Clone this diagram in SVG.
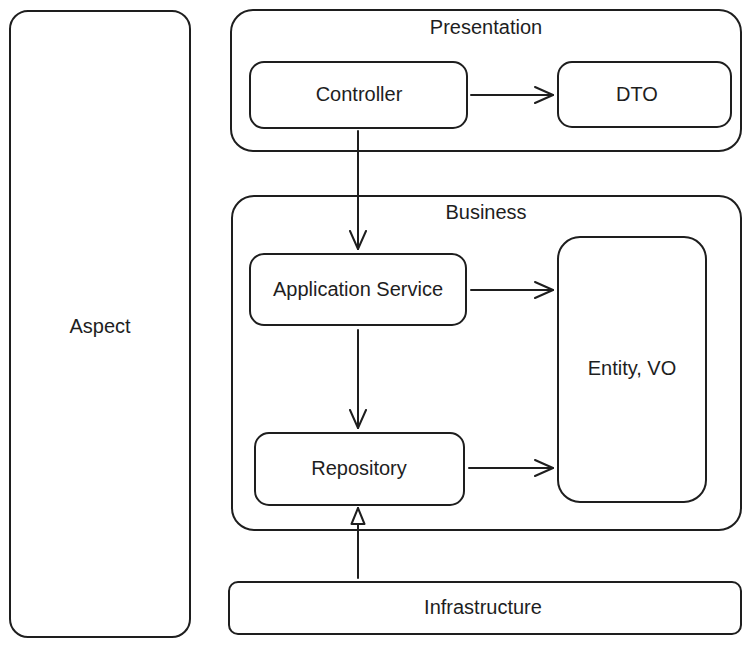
<svg xmlns="http://www.w3.org/2000/svg" width="751" height="649" viewBox="0 0 751 649">
  <style>
    .box { fill: #ffffff; stroke: #1e1e1e; stroke-width: 2; }
    .lbl { font-family: "Liberation Sans", "DejaVu Sans", sans-serif; font-size: 20px; fill: #1e1e1e; text-anchor: middle; dominant-baseline: central; }
    .edge { fill: none; stroke: #1e1e1e; stroke-width: 2; stroke-linecap: round; }
  </style>
  <defs>
    <marker id="open" viewBox="0 0 20 20" refX="19" refY="10" markerWidth="20" markerHeight="20" markerUnits="userSpaceOnUse" orient="auto">
      <path d="M1,2 L19,10 L1,18" fill="none" stroke="#1e1e1e" stroke-width="2" stroke-linecap="round" stroke-linejoin="round"/>
    </marker>
    <marker id="hollow" viewBox="0 0 18 16" refX="17" refY="8" markerWidth="18" markerHeight="16" markerUnits="userSpaceOnUse" orient="auto">
      <path d="M1,1.5 L17,8 L1,14.5 Z" fill="#ffffff" stroke="#1e1e1e" stroke-width="2" stroke-linejoin="round"/>
    </marker>
  </defs>
  <rect width="751" height="649" fill="#ffffff"/>

  <g id="aspect">
    <rect class="box" x="10" y="11" width="180" height="626" rx="18"/>
    <text class="lbl" x="100" y="326">Aspect</text>
  </g>

  <g id="presentation">
    <rect class="box" x="231" y="10" width="510" height="141" rx="22"/>
    <text class="lbl" x="486" y="27">Presentation</text>
  </g>

  <g id="business">
    <rect class="box" x="232" y="196" width="509" height="334" rx="22"/>
    <text class="lbl" x="486" y="212">Business</text>
  </g>

  <g id="controller">
    <rect class="box" x="250" y="62" width="217" height="66" rx="14"/>
    <text class="lbl" x="359" y="94">Controller</text>
  </g>

  <g id="dto">
    <rect class="box" x="558" y="62" width="173" height="65" rx="14"/>
    <text class="lbl" x="637" y="94">DTO</text>
  </g>

  <g id="application-service">
    <rect class="box" x="250" y="254" width="216" height="71" rx="14"/>
    <text class="lbl" x="358" y="289">Application Service</text>
  </g>

  <g id="entity-vo">
    <rect class="box" x="558" y="237" width="148" height="265" rx="22"/>
    <text class="lbl" x="632" y="368">Entity, VO</text>
  </g>

  <g id="repository">
    <rect class="box" x="255" y="433" width="209" height="72" rx="14"/>
    <text class="lbl" x="359" y="468">Repository</text>
  </g>

  <g id="infrastructure">
    <rect class="box" x="229" y="582" width="512" height="52" rx="9"/>
    <text class="lbl" x="483" y="607">Infrastructure</text>
  </g>

  <g id="connectors">
    <path class="edge" d="M471,95 L553,95" marker-end="url(#open)"/>
    <path class="edge" d="M358,131 L358,249" marker-end="url(#open)"/>
    <path class="edge" d="M471,290 L553,290" marker-end="url(#open)"/>
    <path class="edge" d="M358,330 L358,428" marker-end="url(#open)"/>
    <path class="edge" d="M469,468 L553,468" marker-end="url(#open)"/>
    <path class="edge" d="M358,578 L358,508" marker-end="url(#hollow)"/>
  </g>
</svg>
